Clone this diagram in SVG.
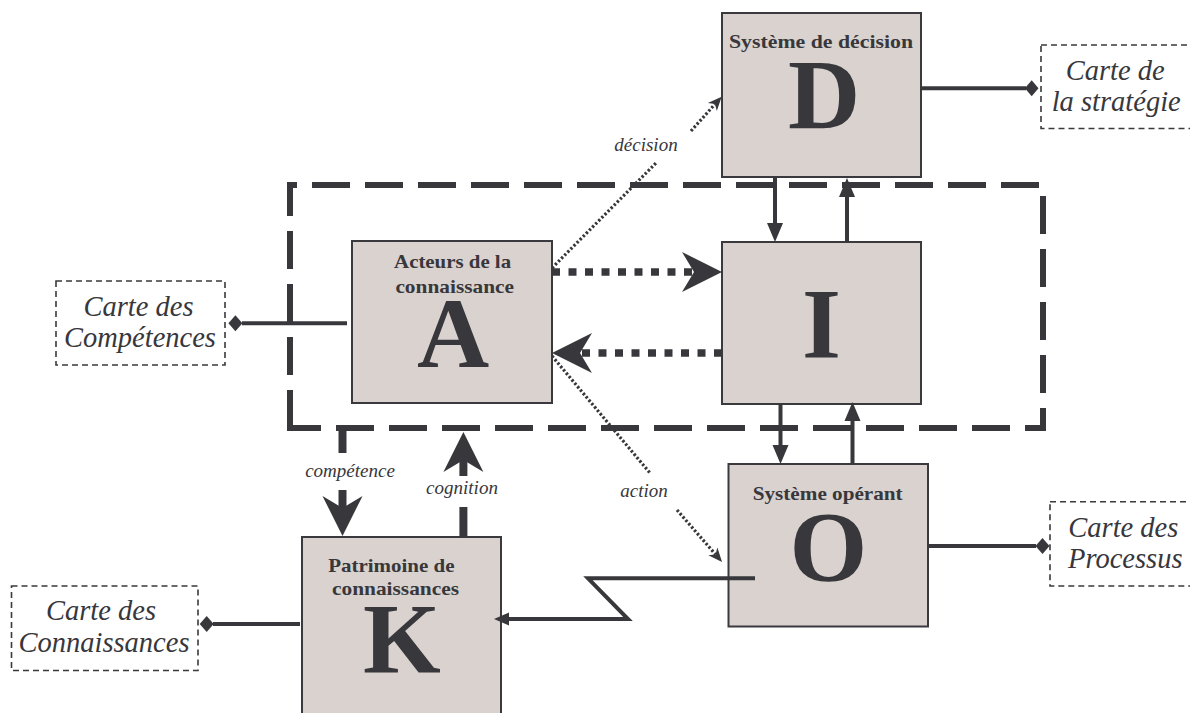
<svg xmlns="http://www.w3.org/2000/svg" width="1190" height="713" viewBox="0 0 1190 713">
<style>
.box{fill:#d9d2cf;stroke:#3a393d;stroke-width:2}
.map{fill:none;stroke:#3a393d;stroke-width:1.6;stroke-dasharray:6 4}
.title{font-family:"Liberation Serif",serif;font-weight:bold;font-size:19.5px;fill:#38373b;text-anchor:middle}
.big{font-family:"Liberation Serif",serif;font-weight:bold;font-size:100px;fill:#38373b;text-anchor:middle}
.maptxt{font-family:"Liberation Serif",serif;font-style:italic;font-size:28.5px;fill:#38373b}
.lbl{font-family:"Liberation Serif",serif;font-style:italic;font-size:19px;fill:#38373b;text-anchor:middle}
.solid{stroke:#38373b;stroke-width:4;fill:none}
.thick{stroke:#38373b;stroke-width:8;fill:none}
.tdot{stroke:#38373b;stroke-width:7.5;fill:none;stroke-dasharray:8 8.5}
.fdot{stroke:#38373b;stroke-width:3.2;fill:none;stroke-dasharray:2.4 2}
.bound{stroke:#38373b;stroke-width:6;fill:none;stroke-dasharray:38 15}
.dia{fill:#38373b}
</style>
<defs>
<marker id="tri" markerUnits="userSpaceOnUse" markerWidth="20" markerHeight="18" refX="0" refY="9" orient="auto" overflow="visible">
<path d="M0,1 L19,9 L0,17 Z" fill="#38373b"/>
</marker>
<marker id="tris" markerUnits="userSpaceOnUse" markerWidth="16" markerHeight="14" refX="0" refY="7" orient="auto" overflow="visible">
<path d="M0,0.5 L15,7 L0,13.5 Z" fill="#38373b"/>
</marker>
<marker id="chev" markerUnits="userSpaceOnUse" markerWidth="42" markerHeight="42" refX="12" refY="21" orient="auto" overflow="visible">
<path d="M0,1 L40,21 L0,41 L12,21 Z" fill="#38373b"/>
</marker>
<marker id="small" markerUnits="userSpaceOnUse" markerWidth="16" markerHeight="14" refX="4" refY="7" orient="auto" overflow="visible">
<path d="M0,1 L14,7 L0,13 L4,7 Z" fill="#38373b"/>
</marker>
</defs>
<rect width="1190" height="713" fill="#ffffff"/>

<g id="boundary">
<path class="bound" d="M290,428 V185 H1043 V428 Z"/>
</g>

<g id="node-D">
<rect class="box" x="722" y="13" width="199" height="164"/>
<text class="title" x="821" y="48" textLength="184" lengthAdjust="spacingAndGlyphs">Système de décision</text>
<text class="big" x="824" y="128">D</text>
</g>

<g id="node-I">
<rect class="box" x="722" y="242" width="199" height="162"/>
<text class="big" x="821.5" y="357">I</text>
</g>

<g id="node-A">
<rect class="box" x="352" y="241" width="200" height="162"/>
<text class="title" x="452.6" y="268" textLength="117" lengthAdjust="spacingAndGlyphs">Acteurs de la</text>
<text class="title" x="454.7" y="293" textLength="118.6" lengthAdjust="spacingAndGlyphs">connaissance</text>
<text class="big" x="453" y="367">A</text>
</g>

<g id="node-O">
<rect class="box" x="728.5" y="464" width="199.5" height="162.5"/>
<text class="title" x="827.7" y="500" textLength="150" lengthAdjust="spacingAndGlyphs">Système opérant</text>
<text class="big" x="828.3" y="580">O</text>
</g>

<g id="node-K">
<rect class="box" x="302" y="537" width="199" height="190"/>
<text class="title" x="391.3" y="571.7" textLength="126.3" lengthAdjust="spacingAndGlyphs">Patrimoine de</text>
<text class="title" x="395.5" y="595" textLength="127" lengthAdjust="spacingAndGlyphs">connaissances</text>
<text class="big" x="402" y="672">K</text>
</g>

<g id="map-strategie">
<rect class="map" x="1041" y="45" width="170" height="83.5"/>
<text class="maptxt" x="1065.7" y="80">Carte de</text>
<text class="maptxt" x="1051.7" y="111">la stratégie</text>
</g>

<g id="map-competences">
<rect class="map" x="56" y="281" width="169" height="84"/>
<text class="maptxt" x="138.5" y="315.7" text-anchor="middle">Carte des</text>
<text class="maptxt" x="140" y="346.7" text-anchor="middle">Compétences</text>
</g>

<g id="map-connaissances">
<rect class="map" x="11.5" y="586" width="186.5" height="84.5"/>
<text class="maptxt" x="101" y="620" text-anchor="middle">Carte des</text>
<text class="maptxt" x="104" y="651.7" text-anchor="middle">Connaissances</text>
</g>

<g id="map-processus">
<rect class="map" x="1050" y="501.7" width="160" height="84.3"/>
<text class="maptxt" x="1068.3" y="537">Carte des</text>
<text class="maptxt" x="1068" y="568.3">Processus</text>
</g>

<g id="connectors">
<path class="solid" d="M921,88.3 H1026"/>
<path class="dia" d="M1031.7,80.3 L1038.5,88.3 L1031.7,96.3 L1024.9,88.3 Z"/>
<path class="solid" d="M347,323.3 H242"/>
<path class="dia" d="M235.4,315.3 L242.4,323.3 L235.4,331.3 L228.4,323.3 Z"/>
<path class="solid" d="M300,624 H213"/>
<path class="dia" d="M206.7,616 L213.7,624 L206.7,632 L199.7,624 Z"/>
<path class="solid" d="M929,546 H1036"/>
<path class="dia" d="M1042.5,538 L1049.5,546 L1042.5,554 L1035.5,546 Z"/>

<path class="solid" d="M775,177 V223" marker-end="url(#tri)"/>
<path class="solid" d="M847,242 V197" marker-end="url(#tri)"/>
<path class="solid" d="M780.5,404 V445" marker-end="url(#tri)"/>
<path class="solid" d="M852.5,464 V421" marker-end="url(#tri)"/>

<path class="tdot" d="M552,272 H694" marker-end="url(#chev)"/>
<path class="tdot" d="M722,353 H580" marker-end="url(#chev)"/>

<path class="fdot" d="M552,268 L656,163"/>
<path class="fdot" d="M691,131 L715,104.1" marker-end="url(#small)"/>
<text class="lbl" x="646" y="150.5">décision</text>

<path class="fdot" d="M552,356 L650,473"/>
<path class="fdot" d="M677,510 L715.5,554.4" marker-end="url(#small)"/>
<text class="lbl" x="644" y="497">action</text>

<path class="thick" d="M342.5,430 V453"/>
<path class="thick" d="M342.5,490 V508" marker-end="url(#chev)"/>
<text class="lbl" x="350" y="477">compétence</text>

<path class="thick" d="M463.4,537 V507"/>
<path class="thick" d="M463.4,476 V460" marker-end="url(#chev)"/>
<text class="lbl" x="462" y="494">cognition</text>

<path class="solid" d="M755,578.3 H588 L628,619 H509" stroke-linejoin="miter" marker-end="url(#tris)"/>
</g>
</svg>
